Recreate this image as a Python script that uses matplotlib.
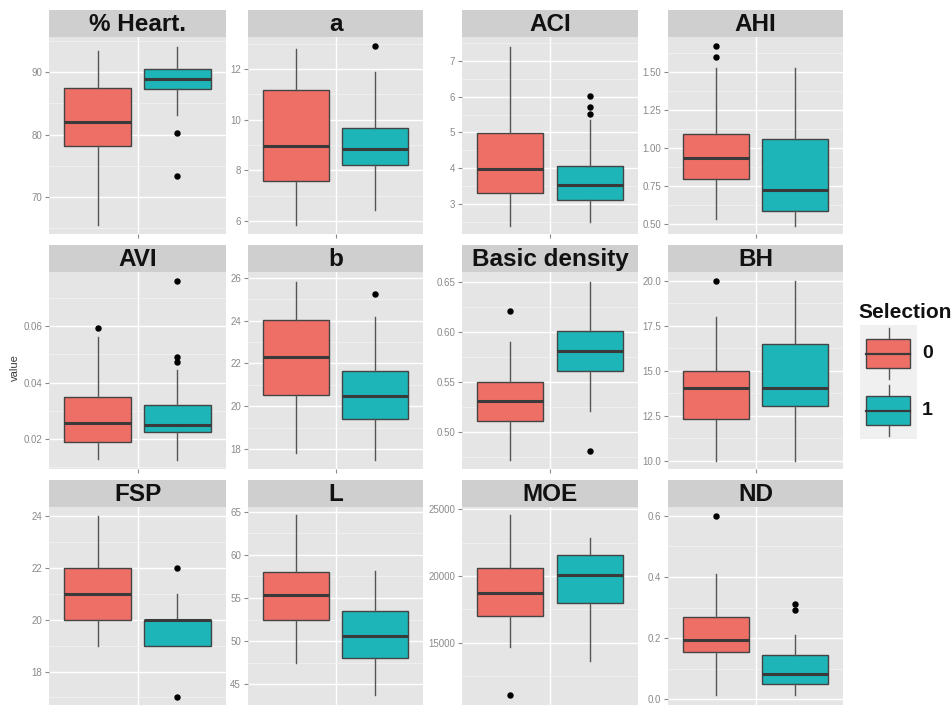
import matplotlib
matplotlib.use("Agg")
import matplotlib.pyplot as plt
from matplotlib.patches import Rectangle

plt.rcParams['font.family'] = ['Liberation Sans', 'DejaVu Sans']

# ---------------- data ----------------
panels = ["% Heart.", "a", "ACI", "AHI",
          "AVI", "b", "Basic density", "BH",
          "FSP", "L", "MOE", "ND"]

groups = ["0", "1"]

# Selection = 0
whislo_0 = [65.5, 5.84, 2.39, 0.535, 0.0128, 17.8, 0.472, 10.0, 19.0, 47.45, 14680, 0.014]
q1_0     = [78.1, 7.60, 3.32, 0.800, 0.0190, 20.53, 0.511, 12.3, 20.0, 52.45, 17050, 0.153]
med_0    = [82.0, 8.95, 3.97, 0.937, 0.0255, 22.31, 0.5305, 14.07, 21.0, 55.4, 18720, 0.193]
q3_0     = [87.4, 11.17, 4.98, 1.091, 0.0347, 24.05, 0.550, 15.0, 22.0, 58.0, 20620, 0.268]
whishi_0 = [93.4, 12.78, 7.40, 1.528, 0.0562, 25.81, 0.590, 17.98, 24.0, 64.6, 24550, 0.41]
fliers_0 = [[], [], [], [1.673, 1.60], [0.0594], [], [0.621], [20.0], [], [], [11090], [0.60]]

# Selection = 1
whislo_1 = [83.1, 6.43, 2.50, 0.49, 0.0126, 17.47, 0.521, 10.0, 19.0, 43.7, 13690, 0.014]
q1_1     = [87.3, 8.21, 3.10, 0.587, 0.0226, 19.41, 0.5607, 13.03, 19.0, 48.05, 17950, 0.05]
med_1    = [88.9, 8.85, 3.53, 0.725, 0.0249, 20.47, 0.581, 14.07, 20.0, 50.6, 20070, 0.083]
q3_1     = [90.5, 9.68, 4.06, 1.058, 0.0320, 21.65, 0.601, 16.5, 20.0, 53.45, 21570, 0.144]
whishi_1 = [94.0, 11.88, 5.35, 1.528, 0.0444, 24.16, 0.650, 20.0, 21.0, 58.1, 22840, 0.21]
fliers_1 = [[80.2, 73.4], [12.92], [6.02, 5.70, 5.51], [], [0.076, 0.0491, 0.0474],
            [25.24], [0.481], [], [22.0, 17.0], [], [], [0.313, 0.292]]

# y-axis ranges and tick labels
ylims = [(64.1, 95.6), (5.49, 13.26), (2.16, 7.67), (0.436, 1.73),
         (0.0094, 0.0791), (17.07, 26.27), (0.4627, 0.6597), (9.54, 20.5),
         (16.71, 24.34), (42.59, 65.55), (10372, 25150), (-0.019, 0.629)]
ytick_labels = [["70", "80", "90"], ["6", "8", "10", "12"], ["3", "4", "5", "6", "7"],
                ["0.50", "0.75", "1.00", "1.25", "1.50"],
                ["0.02", "0.04", "0.06"], ["18", "20", "22", "24", "26"],
                ["0.50", "0.55", "0.60", "0.65"],
                ["10.0", "12.5", "15.0", "17.5", "20.0"],
                ["18", "20", "22", "24"], ["45", "50", "55", "60", "65"],
                ["15000", "20000", "25000"], ["0.0", "0.2", "0.4", "0.6"]]

colors = ["#EE6F66", "#1DB5B8"]
legend_title = "Selection"
ylabel = "value"

# ---------------- layout ----------------
W, H = 952, 705
fig = plt.figure(figsize=(W / 100, H / 100), dpi=100)
fig.patch.set_facecolor("white")

col_left = [49, 248, 462, 668]
col_width = [177, 175, 176, 175]
strip_top = [10, 245, 480]
strip_h = 27
panel_bottom = [234, 469, 705]

edge = "#444444"
positions = [0.73, 1.27]
bwidth = 0.45

for i, name in enumerate(panels):
    r, c = divmod(i, 4)
    x0 = col_left[c]
    w = col_width[c]
    ptop = strip_top[r] + strip_h
    pb = panel_bottom[r]
    ax = fig.add_axes([x0 / W, 1 - pb / H, w / W, (pb - ptop) / H])
    sax = fig.add_axes([x0 / W, 1 - (strip_top[r] + strip_h) / H, w / W, strip_h / H])
    sax.set_facecolor("#CFCFCF")
    sax.set_xticks([]); sax.set_yticks([])
    for s in sax.spines.values():
        s.set_visible(False)
    sax.text(0.5, 0.45, name, ha="center", va="center", fontsize=17.5,
             fontweight="bold", color="#111111", transform=sax.transAxes)

    ax.set_facecolor("#E5E5E5")
    stats = [
        dict(whislo=whislo_0[i], q1=q1_0[i], med=med_0[i], q3=q3_0[i],
             whishi=whishi_0[i], fliers=fliers_0[i]),
        dict(whislo=whislo_1[i], q1=q1_1[i], med=med_1[i], q3=q3_1[i],
             whishi=whishi_1[i], fliers=fliers_1[i]),
    ]
    bp = ax.bxp(stats, positions=positions, widths=bwidth, patch_artist=True,
                showcaps=False,
                boxprops=dict(edgecolor=edge, linewidth=1.0),
                medianprops=dict(color="#3a3a3a", linewidth=2.2),
                whiskerprops=dict(color="#555555", linewidth=1.0),
                flierprops=dict(marker="o", markerfacecolor="black",
                                markeredgecolor="black", markersize=3.6),
                manage_ticks=False, zorder=3)
    for patch, col in zip(bp["boxes"], colors):
        patch.set_facecolor(col)

    ax.set_xlim(0.4, 1.6)
    ax.set_ylim(*ylims[i])
    labels = ytick_labels[i]
    ticks = [float(t) for t in labels]
    ax.set_yticks(ticks)
    ax.set_yticklabels(labels)
    step = ticks[1] - ticks[0]
    lo, hi = ylims[i]
    minor = []
    k = ticks[0] - step / 2
    while k > lo:
        minor.append(k); k -= step
    k = ticks[0] + step / 2
    while k < hi:
        minor.append(k); k += step
    ax.set_yticks(minor, minor=True)
    ax.set_xticks([1.0])
    ax.set_xticklabels([""])
    ax.grid(True, which="major", color="white", linewidth=1.0, zorder=0)
    ax.grid(True, which="minor", axis="y", color="#F2F2F2", linewidth=0.6, zorder=0)
    ax.set_axisbelow(True)
    for s in ax.spines.values():
        s.set_visible(False)
    ax.tick_params(axis="both", which="major", length=3, width=0.8, color="#8a8a8a",
                   labelsize=7, labelcolor="#8a8a8a", pad=2)
    ax.tick_params(axis="both", which="minor", length=0)

fig.text(15 / W, 1 - 368 / H, ylabel, rotation=90, ha="center", va="center",
         fontsize=8, color="#3a3a3a")

# ---------------- legend ----------------
fig.text(858 / W, 1 - 312 / H, legend_title, ha="left", va="center",
         fontsize=15, fontweight="bold", color="#111111")
key_top = [325, 382]
for g, (lab, col) in enumerate(zip(groups, colors)):
    kax = fig.add_axes([860 / W, 1 - (key_top[g] + 57) / H, 57 / W, 57 / H])
    kax.set_xlim(0, 1); kax.set_ylim(0, 1)
    kax.set_facecolor("#F0F0F0")
    kax.set_xticks([]); kax.set_yticks([])
    for s in kax.spines.values():
        s.set_visible(False)
    kax.plot([0.5, 0.5], [0.06, 0.94], color="#555555", lw=1.0)
    kax.add_patch(Rectangle((0.11, 0.24), 0.76, 0.52, facecolor=col,
                            edgecolor=edge, lw=1.0, zorder=3))
    kax.plot([0.11, 0.87], [0.5, 0.5], color="#3a3a3a", lw=1.6, zorder=4)
    fig.text(922 / W, 1 - (key_top[g] + 28.5) / H, lab, ha="left", va="center",
             fontsize=14, fontweight="bold", color="#111111")

fig.savefig("out.png", dpi=100)
